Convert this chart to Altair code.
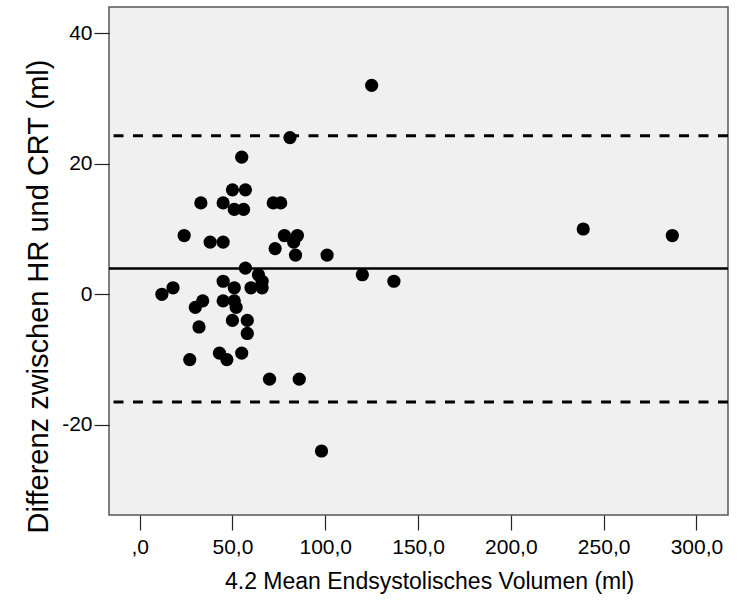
import altair as alt
import pandas as pd

# Bland-Altman data: mean volume (x) vs difference (y)
mean_vol = [55, 50, 57, 33, 45, 51, 56, 24, 38, 45,
            81, 72, 76, 78, 85, 83, 73, 84, 101, 57,
            64, 120, 137, 60, 66, 66, 51, 45, 12, 18,
            34, 30, 45, 51, 52, 50, 58, 32, 58, 27,
            43, 47, 55, 70, 86, 98, 239, 287, 125]
diff_vol = [21, 16, 16, 14, 14, 13, 13, 9, 8, 8,
            24, 14, 14, 9, 9, 8, 7, 6, 6, 4,
            3, 3, 2, 1, 1, 2, 1, 2, 0, 1,
            -1, -2, -1, -1, -2, -4, -4, -5, -6, -10,
            -9, -10, -9, -13, -13, -24, 10, 9, 32]

mean_diff = [3.95]
loa_limits = [24.3, -16.5]

x_ticks = [0, 50, 100, 150, 200, 250, 300]
y_ticks = [-20, 0, 20, 40]

pts = pd.DataFrame({"x": mean_vol, "y": diff_vol})
mean_df = pd.DataFrame({"y": mean_diff})
loa_df = pd.DataFrame({"y": loa_limits})

FONT = "Liberation Sans"

xscale = alt.Scale(domain=[-16.5, 317], nice=False, zero=False)
yscale = alt.Scale(domain=[-33.8, 44], nice=False, zero=False)

points = alt.Chart(pts).mark_circle(color="black", opacity=1, size=175).encode(
    x=alt.X("x:Q", scale=xscale,
            title="4.2 Mean Endsystolisches Volumen (ml)",
            axis=alt.Axis(values=x_ticks, grid=False, domain=False,
                          tickSize=15, tickColor="#222", tickWidth=1.2,
                          labelExpr="datum.value == 0 ? ',0' : replace(format(datum.value, '.1f'), '.', ',')",
                          labelFontSize=21, labelFont=FONT, labelColor="black",
                          labelPadding=6,
                          titleFontSize=23, titleFont=FONT, titleFontWeight="normal",
                          titleColor="black", titleX=320, titleY=73,
                          titleAlign="center", titleBaseline="alphabetic")),
    y=alt.Y("y:Q", scale=yscale,
            title="Differenz zwischen HR und CRT (ml)",
            axis=alt.Axis(values=y_ticks, grid=False, domain=False,
                          tickSize=15, tickColor="#222", tickWidth=1.2,
                          labelExpr="datum.value < 0 ? '-' + abs(datum.value) : '' + datum.value",
                          labelFontSize=21, labelFont=FONT, labelColor="black",
                          labelPadding=2,
                          titleFontSize=29, titleFont=FONT, titleFontWeight="normal",
                          titleColor="black", titleX=-62, titleY=289,
                          titleAngle=270, titleAlign="center",
                          titleBaseline="alphabetic")),
)

mean_rule = alt.Chart(mean_df).mark_rule(color="black", strokeWidth=2.5).encode(
    y=alt.Y("y:Q", scale=yscale)
)

loa_rule = alt.Chart(loa_df).mark_rule(color="black", strokeWidth=3, strokeDash=[10, 9.5]).encode(
    y=alt.Y("y:Q", scale=yscale)
)

chart = alt.layer(mean_rule, loa_rule, points).properties(
    width=619, height=508,
    autosize=alt.AutoSizeParams(type="none"),
    padding={"left": 109, "top": 7, "right": 12, "bottom": 87},
    background="white",
).configure_view(
    fill="#F0F0F0", stroke="#555555", strokeWidth=1.5
)

chart.save("out.html", embed_options={"renderer": "svg", "actions": False})
